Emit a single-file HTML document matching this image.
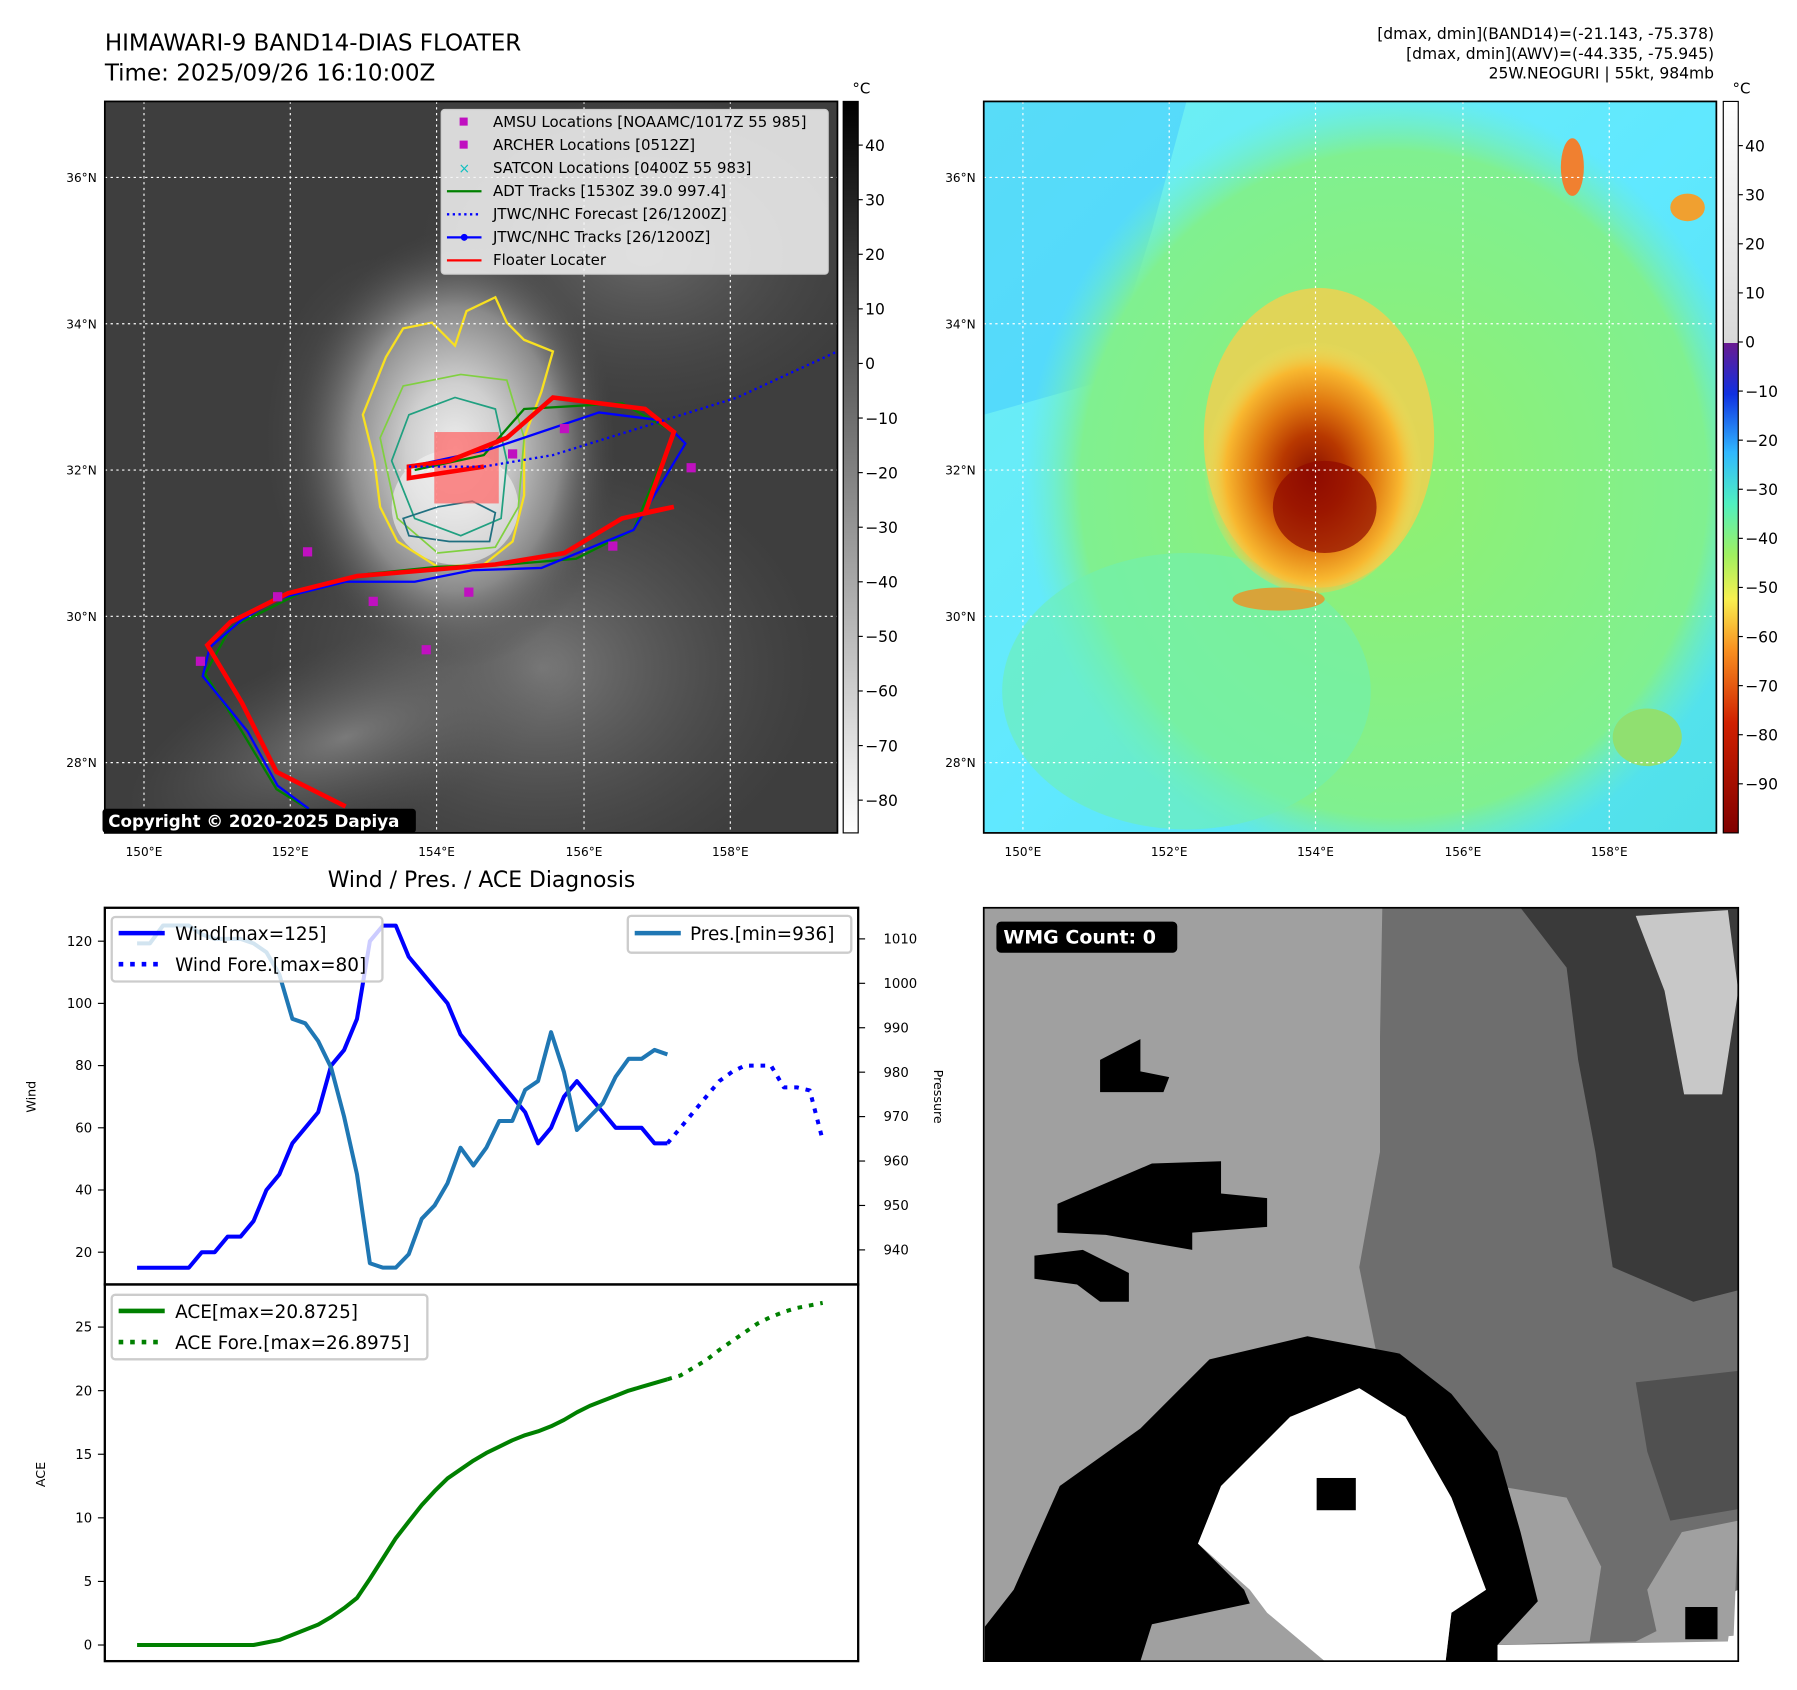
<!DOCTYPE html>
<html><head><meta charset="utf-8"><style>
html,body{margin:0;padding:0;background:#fff;}
svg{display:block;font-family:"DejaVu Sans","Liberation Sans",sans-serif;}
</style></head><body>
<svg id="fig" width="1797" height="1690" viewBox="0 0 1560 1467" xmlns="http://www.w3.org/2000/svg">
<defs>
<radialGradient id="cloud" cx="0.5" cy="0.5" r="0.5">
<stop offset="0" stop-color="#eeeeee"/><stop offset="0.3" stop-color="#cfcfcf"/><stop offset="0.65" stop-color="#8a8a8a"/><stop offset="1" stop-color="#4a4a4a" stop-opacity="0"/></radialGradient>
<radialGradient id="band" cx="0.5" cy="0.5" r="0.5">
<stop offset="0" stop-color="#7a7a7a"/><stop offset="1" stop-color="#555" stop-opacity="0"/></radialGradient>
<linearGradient id="grayBar" x1="0" y1="0" x2="0" y2="1"><stop offset="0" stop-color="#000"/><stop offset="1" stop-color="#fff"/></linearGradient>
<linearGradient id="jetBar" x1="0" y1="0" x2="0" y2="1">
<stop offset="0" stop-color="#ffffff"/><stop offset="0.33" stop-color="#d8d8d8"/><stop offset="0.33" stop-color="#6a1a90"/><stop offset="0.4" stop-color="#1030e0"/><stop offset="0.48" stop-color="#30b8ff"/><stop offset="0.55" stop-color="#50f0c0"/><stop offset="0.62" stop-color="#a0f060"/><stop offset="0.68" stop-color="#f8f050"/><stop offset="0.75" stop-color="#f89020"/><stop offset="0.85" stop-color="#d02000"/><stop offset="1" stop-color="#800000"/></linearGradient>
<linearGradient id="bgR" x1="0" y1="0" x2="1" y2="1"><stop offset="0" stop-color="#70f0f0"/><stop offset="0.5" stop-color="#60e8ff"/><stop offset="1" stop-color="#50e0e8"/></linearGradient>
<radialGradient id="greenR" cx="0.5" cy="0.5" r="0.5"><stop offset="0" stop-color="#90f070"/><stop offset="0.85" stop-color="#80f090"/><stop offset="1" stop-color="#70f0c0" stop-opacity="0"/></radialGradient>
<radialGradient id="coreR" cx="0.5" cy="0.55" r="0.5"><stop offset="0" stop-color="#8a1000"/><stop offset="0.3" stop-color="#b83800"/><stop offset="0.55" stop-color="#e07810"/><stop offset="0.8" stop-color="#f8b830"/><stop offset="1" stop-color="#f0e060" stop-opacity="0"/></radialGradient>
<clipPath id="clipL"><rect x="91" y="88" width="636" height="635"/></clipPath>
<clipPath id="clipR"><rect x="854" y="88" width="636" height="635"/></clipPath>
</defs>

<text x="91" y="44" font-size="20">HIMAWARI-9 BAND14-DIAS FLOATER</text>
<text x="91" y="70" font-size="20">Time: 2025/09/26 16:10:00Z</text>
<g font-size="13.5" text-anchor="end">
<text x="1488" y="34">[dmax, dmin](BAND14)=(-21.143, -75.378)</text>
<text x="1488" y="51">[dmax, dmin](AWV)=(-44.335, -75.945)</text>
<text x="1488" y="68">25W.NEOGURI | 55kt, 984mb</text>
</g>

<g clip-path="url(#clipL)">
<rect x="91" y="88" width="636" height="635" fill="#3e3e3e"/>
<ellipse cx="470" cy="580" rx="240" ry="190" fill="url(#band)"/>
<ellipse cx="300" cy="640" rx="200" ry="80" fill="url(#band)" transform="rotate(-20 300 640)"/>
<ellipse cx="560" cy="220" rx="200" ry="140" fill="url(#band)" opacity="0.7"/>
<ellipse cx="330" cy="380" rx="100" ry="160" fill="url(#band)" opacity="0.8"/>
<ellipse cx="395" cy="390" rx="140" ry="190" fill="url(#cloud)"/>
<ellipse cx="395" cy="440" rx="55" ry="50" fill="#f4f4f4" opacity="0.6"/>
<path d="M315,360 L335,310 L350,285 L375,280 L395,300 L405,270 L430,258 L440,280 L455,295 L480,305 L470,340 L455,380 L455,430 L445,470 L420,490 L380,492 L345,470 L330,440 L325,400 Z" fill="none" stroke="#f8e020" stroke-width="2"/>
<path d="M330,380 L350,335 L400,325 L440,330 L455,380 L450,440 L430,475 L380,480 L345,450 Z" fill="none" stroke="#80d040" stroke-width="1.5"/>
<path d="M340,400 L355,360 L395,345 L430,355 L440,400 L435,450 L400,465 L360,450 Z" fill="none" stroke="#20a080" stroke-width="1.5"/>
<path d="M350,450 L380,440 L410,435 L430,445 L425,470 L390,470 L355,465 Z" fill="none" stroke="#207080" stroke-width="1.5"/>
<g stroke="#fff" stroke-width="1" stroke-dasharray="2,3">
<line x1="125" y1="88" x2="125" y2="723"/><line x1="252" y1="88" x2="252" y2="723"/><line x1="379" y1="88" x2="379" y2="723"/><line x1="507" y1="88" x2="507" y2="723"/><line x1="634" y1="88" x2="634" y2="723"/>
<line x1="91" y1="154" x2="727" y2="154"/><line x1="91" y1="281" x2="727" y2="281"/><line x1="91" y1="408" x2="727" y2="408"/><line x1="91" y1="535" x2="727" y2="535"/><line x1="91" y1="662" x2="727" y2="662"/>
</g>
<rect x="377" y="375" width="56" height="62" fill="#ff6060" opacity="0.7"/>
<polyline points="272,705 240,685 210,635 178,585 200,545 260,515 320,498 380,492 440,490 500,485 550,460 585,375 540,350 455,355 420,395 360,408" fill="none" stroke="#008000" stroke-width="2"/>
<polyline points="268,702 241,682 215,635 176,587 182,562 210,538 240,520 300,505 360,505 410,495 470,493 550,460 595,385 575,365 520,358 425,390 355,405" fill="none" stroke="#0000ff" stroke-width="2"/>
<polyline points="300,700 240,670 210,610 180,560 200,540 250,515 310,500 370,495 430,490 490,480 540,450 585,440 560,445 585,375 560,355 480,345 440,380 390,400 355,405 355,415 420,405" fill="none" stroke="#ff0000" stroke-width="4"/>
<polyline points="355,405 420,405 480,395 560,370 640,345 727,305" fill="none" stroke="#0000ff" stroke-width="2" stroke-dasharray="2,3"/>
<g fill="#c010c0">
<rect x="263" y="475" width="8" height="8"/><rect x="237" y="514" width="8" height="8"/><rect x="320" y="518" width="8" height="8"/><rect x="366" y="560" width="8" height="8"/><rect x="441" y="390" width="8" height="8"/><rect x="486" y="368" width="8" height="8"/><rect x="596" y="402" width="8" height="8"/><rect x="528" y="470" width="8" height="8"/><rect x="403" y="510" width="8" height="8"/><rect x="170" y="570" width="8" height="8"/>
</g>
</g>
<rect x="91" y="88" width="636" height="635" fill="none" stroke="#000" stroke-width="1.5"/>
<g font-size="13">
<rect x="383" y="95" width="336" height="143" fill="#f4f4f4" fill-opacity="0.85" stroke="#ccc" rx="3"/>
<rect x="399" y="102" width="7" height="7" fill="#c010c0"/><text x="428" y="110">AMSU Locations [NOAAMC/1017Z 55 985]</text>
<rect x="399" y="122" width="7" height="7" fill="#c010c0"/><text x="428" y="130">ARCHER Locations [0512Z]</text>
<text x="398" y="150" fill="#10c0c0" font-size="12">×</text><text x="428" y="150">SATCON Locations [0400Z 55 983]</text>
<line x1="388" y1="166" x2="418" y2="166" stroke="#008000" stroke-width="2"/><text x="428" y="170">ADT Tracks [1530Z 39.0 997.4]</text>
<line x1="388" y1="186" x2="418" y2="186" stroke="#0000ff" stroke-width="2" stroke-dasharray="2,3"/><text x="428" y="190">JTWC/NHC Forecast [26/1200Z]</text>
<line x1="388" y1="206" x2="418" y2="206" stroke="#0000ff" stroke-width="2"/><circle cx="403" cy="206" r="3" fill="#0000ff"/><text x="428" y="210">JTWC/NHC Tracks [26/1200Z]</text>
<line x1="388" y1="226" x2="418" y2="226" stroke="#ff0000" stroke-width="2"/><text x="428" y="230">Floater Locater</text>
</g>
<g>
<rect x="89" y="702" width="272" height="21" fill="#000" rx="3"/>
<text x="94" y="718" fill="#fff" font-weight="bold" font-size="14.5">Copyright © 2020-2025 Dapiya</text>
</g>
<g font-size="10.5">
<g text-anchor="end"><text x="84" y="158">36°N</text><text x="84" y="285">34°N</text><text x="84" y="412">32°N</text><text x="84" y="539">30°N</text><text x="84" y="666">28°N</text></g>
<g text-anchor="middle"><text x="125" y="743">150°E</text><text x="252" y="743">152°E</text><text x="379" y="743">154°E</text><text x="507" y="743">156°E</text><text x="634" y="743">158°E</text></g>
</g>
<g>
<rect x="732" y="88" width="13" height="635" fill="url(#grayBar)" stroke="#000" stroke-width="1"/>
<text x="740" y="81" font-size="13">°C</text>
<g font-size="13.5" id="cb1"></g>
</g>

<g clip-path="url(#clipR)">
<rect x="854" y="88" width="636" height="635" fill="url(#bgR)"/>
<polygon points="854,88 1030,88 1000,200 960,330 854,360" fill="#40c8ff" opacity="0.5"/>
<ellipse cx="1210" cy="420" rx="320" ry="340" fill="url(#greenR)"/>
<ellipse cx="1030" cy="600" rx="160" ry="120" fill="#70f0b0" opacity="0.6"/>
<ellipse cx="1145" cy="380" rx="100" ry="130" fill="#f0d050" opacity="0.85"/>
<ellipse cx="1140" cy="400" rx="95" ry="115" fill="url(#coreR)"/>
<ellipse cx="1150" cy="440" rx="45" ry="40" fill="#900800" opacity="0.7"/>
<ellipse cx="1110" cy="520" rx="40" ry="10" fill="#f09020" opacity="0.8"/>
<ellipse cx="1365" cy="145" rx="10" ry="25" fill="#f08030"/>
<ellipse cx="1465" cy="180" rx="15" ry="12" fill="#f0a030"/>
<ellipse cx="1430" cy="640" rx="30" ry="25" fill="#90e070"/>
<g stroke="#fff" stroke-width="1" stroke-dasharray="2,3">
<line x1="888" y1="88" x2="888" y2="723"/><line x1="1015" y1="88" x2="1015" y2="723"/><line x1="1142" y1="88" x2="1142" y2="723"/><line x1="1270" y1="88" x2="1270" y2="723"/><line x1="1397" y1="88" x2="1397" y2="723"/>
<line x1="854" y1="154" x2="1490" y2="154"/><line x1="854" y1="281" x2="1490" y2="281"/><line x1="854" y1="408" x2="1490" y2="408"/><line x1="854" y1="535" x2="1490" y2="535"/><line x1="854" y1="662" x2="1490" y2="662"/>
</g>
</g>
<rect x="854" y="88" width="636" height="635" fill="none" stroke="#000" stroke-width="1.5"/>
<g font-size="10.5">
<g text-anchor="end"><text x="847" y="158">36°N</text><text x="847" y="285">34°N</text><text x="847" y="412">32°N</text><text x="847" y="539">30°N</text><text x="847" y="666">28°N</text></g>
<g text-anchor="middle"><text x="888" y="743">150°E</text><text x="1015" y="743">152°E</text><text x="1142" y="743">154°E</text><text x="1270" y="743">156°E</text><text x="1397" y="743">158°E</text></g>
</g>
<g>
<rect x="1496" y="88" width="13" height="635" fill="url(#jetBar)" stroke="#000" stroke-width="1"/>
<text x="1504" y="81" font-size="13">°C</text>
<g font-size="13.5" id="cb2"></g>
</g>

<g>
<svg x="854" y="788" width="655" height="654" viewBox="854 788 655 654">
<rect x="854" y="788" width="655" height="654" fill="#fff"/>
<polygon fill="#a0a0a0" points="854,788 1509,788 1509,1360 1500,1425 1300,1428 1300,1442 854,1442"/>
<polygon fill="#6e6e6e" points="1200,788 1509,788 1509,1380 1420,1425 1300,1428 1300,1300 1240,1240 1200,1200 1180,1100 1198,1000 1198,900"/>
<polygon fill="#a0a0a0" points="1300,1290 1360,1300 1390,1360 1380,1425 1300,1428"/>
<polygon fill="#a0a0a0" points="1430,1380 1460,1330 1509,1320 1505,1420 1440,1425"/>
<polygon fill="#3a3a3a" points="1320,788 1509,788 1509,1120 1470,1130 1400,1100 1385,1000 1370,920 1360,840"/>
<polygon fill="#505050" points="1420,1200 1509,1190 1509,1310 1450,1320 1430,1260"/>
<polygon fill="#c8c8c8" points="1420,795 1500,790 1509,860 1495,950 1462,950 1445,860"/>
<polygon fill="#000" points="955,920 990,902 990,930 1015,935 1010,948 955,948"/>
<polygon fill="#000" points="918,1045 1000,1010 1060,1008 1060,1036 1100,1040 1100,1065 1035,1070 1035,1085 960,1072 918,1070"/>
<polygon fill="#000" points="898,1090 940,1085 980,1105 980,1130 955,1130 935,1115 898,1110"/>
<polygon fill="#000" points="855,1442 855,1412 880,1380 920,1290 990,1240 1050,1180 1135,1160 1215,1175 1260,1210 1300,1260 1320,1330 1335,1390 1300,1428 1300,1442 1255,1442 1260,1400 1290,1380 1260,1300 1220,1230 1180,1210 1120,1230 1060,1290 1040,1340 1080,1380 1085,1392 1000,1410 990,1442"/>
<polygon fill="#fff" points="1040,1340 1060,1290 1120,1230 1180,1205 1220,1230 1260,1300 1290,1380 1260,1400 1255,1442 1150,1442 1100,1400 1085,1380"/>
<rect x="1143" y="1283" width="34" height="28" fill="#000"/>
<rect x="1463" y="1395" width="28" height="28" fill="#000"/>
</svg>
<rect x="854" y="788" width="655" height="654" fill="none" stroke="#000" stroke-width="1.5"/>
<rect x="865" y="800" width="157" height="27" rx="4" fill="#000"/>
<text x="871" y="819" fill="#fff" font-weight="bold" font-size="16.5">WMG Count: 0</text>
</g>

<text x="418" y="770" font-size="19" text-anchor="middle">Wind / Pres. / ACE Diagnosis</text>
<g id="chart"></g>
<rect x="91" y="788" width="654" height="327" fill="none" stroke="#000" stroke-width="2"/>
<rect x="91" y="1115" width="654" height="327" fill="none" stroke="#000" stroke-width="2"/>
<text font-size="11" transform="translate(31,952) rotate(-90)" text-anchor="middle">Wind</text>
<text font-size="11" transform="translate(811,952) rotate(90)" text-anchor="middle">Pressure</text>
<text font-size="11" transform="translate(39,1280) rotate(-90)" text-anchor="middle">ACE</text>

<g font-size="16">
<rect x="97" y="796" width="235" height="56" fill="#fff" fill-opacity="0.8" stroke="#ccc" stroke-width="2" rx="3"/>
<line x1="103" y1="810" x2="143" y2="810" stroke="#0000ff" stroke-width="4"/><text x="152" y="816">Wind[max=125]</text>
<line x1="103" y1="837" x2="143" y2="837" stroke="#0000ff" stroke-width="4" stroke-dasharray="4,6"/><text x="152" y="843">Wind Fore.[max=80]</text>
</g>
<g font-size="16">
<rect x="545" y="795" width="194" height="32" fill="#fff" fill-opacity="0.8" stroke="#ccc" stroke-width="2" rx="3"/>
<line x1="551" y1="810" x2="591" y2="810" stroke="#1f77b4" stroke-width="4"/><text x="599" y="816">Pres.[min=936]</text>
</g>
<g font-size="16">
<rect x="97" y="1124" width="274" height="56" fill="#fff" fill-opacity="0.8" stroke="#ccc" stroke-width="2" rx="3"/>
<line x1="103" y1="1138" x2="143" y2="1138" stroke="#008000" stroke-width="4"/><text x="152" y="1144">ACE[max=20.8725]</text>
<line x1="103" y1="1165" x2="143" y2="1165" stroke="#008000" stroke-width="4" stroke-dasharray="4,6"/><text x="152" y="1171">ACE Fore.[max=26.8975]</text>
</g>
</svg>
<script>
const windObs = [15,15,15,15,15,20,20,25,25,30,40,45,55,60,65,80,85,95,120,125,125,115,110,105,100,90,85,80,75,70,65,55,60,70,75,70,65,60,60,60,55,55];
const windFore = [55,60,65,70,75,78,80,80,80,73,73,72,56];
const presObs = [1009,1009,1013,1013,1013,1011,1010,1010,1010,1009,1007,1002,992,991,987,981,970,957,937,936,936,939,947,950,955,963,959,963,969,969,976,978,989,980,967,970,973,979,983,983,985,984];
const aceObs = [0,0,0,0,0,0,0,0,0,0,0.2,0.4,0.8,1.2,1.6,2.2,2.9,3.7,5.2,6.8,8.4,9.7,11,12.1,13.1,13.8,14.5,15.1,15.6,16.1,16.5,16.8,17.2,17.7,18.3,18.8,19.2,19.6,20,20.3,20.6,20.9];
const aceFore = [20.9,21.2,21.8,22.4,23.2,23.9,24.6,25.3,25.8,26.2,26.5,26.7,26.9];
const windTicks = [20,40,60,80,100,120];
const presTicks = [940,950,960,970,980,990,1000,1010];
const aceTicks = [0,5,10,15,20,25];
const cb1Ticks = [40,30,20,10,0,-10,-20,-30,-40,-50,-60,-70,-80];
const cb2Ticks = [40,30,20,10,0,-10,-20,-30,-40,-50,-60,-70,-80,-90];

const NS="http://www.w3.org/2000/svg";
const xs = i => 119 + i*11.23;
const yW = v => 817 + (120-v)*2.7;
const yP = p => 815 + (1010-p)*3.857;
const yA = v => 1428 - v*11.04;
const g = document.getElementById('chart');
function mk(tag, attrs, parent){const e=document.createElementNS(NS,tag);for(const k in attrs)e.setAttribute(k,attrs[k]);(parent||g).appendChild(e);return e;}
function line(vals, off, yf, color, dash, name){
  const pts = vals.map((v,i)=>xs(i+off).toFixed(1)+','+yf(v).toFixed(1)).join(' ');
  const el = mk('polyline',{points:pts,fill:'none',stroke:color,'stroke-width':3.5,'stroke-linejoin':'round'});
  if(dash) el.setAttribute('stroke-dasharray',dash);
  
  
}
line(windObs,0,yW,'#0000ff',null,'wind-line');
line(windFore,windObs.length-1,yW,'#0000ff','4,6','wind-forecast-line');
line(presObs,0,yP,'#1f77b4',null,'pressure-line');
line(aceObs,0,yA,'#008000',null,'ace-line');
line(aceFore,aceObs.length-1,yA,'#008000','4,6','ace-forecast-line');
windTicks.forEach(v=>{const y=yW(v);mk('line',{x1:85,x2:91,y1:y,y2:y,stroke:'#000'});
  const t=mk('text',{x:80,y:y+4,'font-size':11.5,'text-anchor':'end'});t.textContent=v;
  
  });
presTicks.forEach(v=>{const y=yP(v);mk('line',{x1:745,x2:751,y1:y,y2:y,stroke:'#000'});
  const t=mk('text',{x:767,y:y+4,'font-size':11.5});t.textContent=v;
  
  });
aceTicks.forEach(v=>{const y=yA(v);mk('line',{x1:85,x2:91,y1:y,y2:y,stroke:'#000'});
  const t=mk('text',{x:80,y:y+4,'font-size':11.5,'text-anchor':'end'});t.textContent=v;
  
  });
const cb1=document.getElementById('cb1');
cb1Ticks.forEach(v=>{const y=88+(48-v)*(635/134);mk('line',{x1:745,x2:749,y1:y,y2:y,stroke:'#000'},cb1);
  const t=mk('text',{x:751,y:y+5},cb1);t.textContent=v<0?'\u2212'+(-v):v;
  
  });
const cb2=document.getElementById('cb2');
cb2Ticks.forEach(v=>{const y=88+(49-v)*(635/149);mk('line',{x1:1509,x2:1513,y1:y,y2:y,stroke:'#000'},cb2);
  const t=mk('text',{x:1515,y:y+5},cb2);t.textContent=v<0?'\u2212'+(-v):v;
  
  });
</script>
</body></html>
